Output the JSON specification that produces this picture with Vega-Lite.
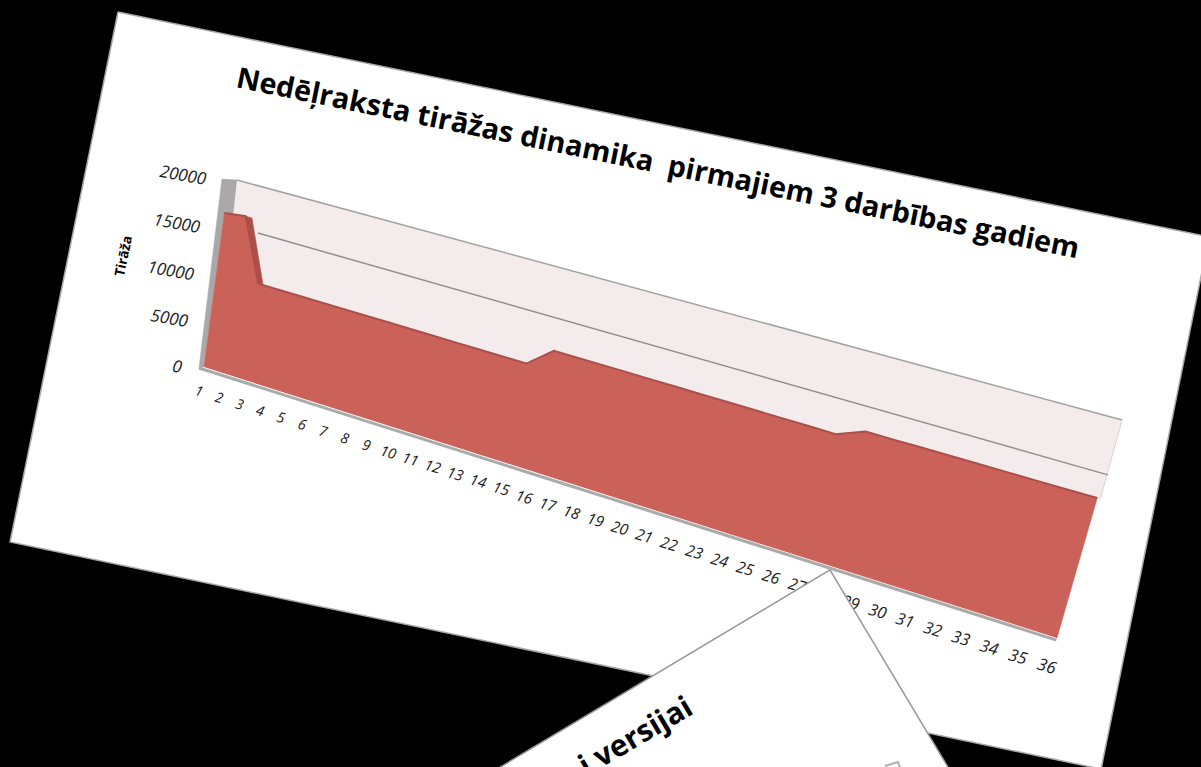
{"$schema":"https://vega.github.io/schema/vega-lite/v6.json","width":1201,"height":767,"autosize":{"type":"fit","contains":"padding"},"padding":0,"background":"#000000","view":{"stroke":null,"fill":null},
"data":{"values":[
{"part":"sheet","seq":0,"week":-5.18,"value":33598},{"part":"sheet","seq":1,"week":37.06,"value":36188},{"part":"sheet","seq":2,"week":38.56,"value":-10206},{"part":"sheet","seq":3,"week":-7.79,"value":-26870},{"part":"sheet","seq":4,"week":-5.18,"value":33598},
{"part":"side","seq":0,"week":0.77,"value":-272},{"part":"side","seq":1,"week":0.68,"value":19710},{"part":"side","seq":2,"week":1.38,"value":20016},{"part":"side","seq":3,"week":1.49,"value":16684},{"part":"side","seq":4,"week":1,"value":16400},{"part":"side","seq":5,"week":1,"value":0},
{"part":"wall","seq":0,"week":1.38,"value":20016},{"part":"wall","seq":1,"week":36.07,"value":19963},{"part":"wall","seq":2,"week":36.1,"value":12900},{"part":"wall","seq":3,"week":10,"value":8000},{"part":"wall","seq":4,"week":1.5,"value":8000},
{"part":"walltop","seq":0,"week":1.38,"value":20016},{"part":"walltop","seq":1,"week":36.07,"value":19963},{"part":"wallside","seq":0,"week":36.07,"value":19963},{"part":"wallside","seq":1,"week":36.1,"value":12900},
{"part":"grid","seq":0,"week":2.67,"value":15330},{"part":"grid","seq":1,"week":36.12,"value":15130},
{"part":"base","seq":0,"week":0.77,"value":-272},{"part":"base","seq":1,"week":36,"value":-200},
{"part":"band","seq":0,"week":2,"value":16660},{"part":"band","seq":1,"week":2.3,"value":16660},{"part":"band","seq":2,"week":3.23,"value":10270},{"part":"band","seq":3,"week":3,"value":10270},
{"part":"red","seq":0,"week":1,"value":0},
{"part":"red","seq":1,"week":1,"value":16400},{"part":"red","seq":2,"week":2,"value":16660},{"part":"red","seq":3,"week":3,"value":10270},{"part":"red","seq":4,"week":4,"value":10260},{"part":"red","seq":5,"week":5,"value":10250},{"part":"red","seq":6,"week":6,"value":10240},{"part":"red","seq":7,"week":7,"value":10240},{"part":"red","seq":8,"week":8,"value":10230},{"part":"red","seq":9,"week":9,"value":10220},{"part":"red","seq":10,"week":10,"value":10210},{"part":"red","seq":11,"week":11,"value":10200},{"part":"red","seq":12,"week":12,"value":10190},{"part":"red","seq":13,"week":13,"value":10180},{"part":"red","seq":14,"week":14,"value":10170},{"part":"red","seq":15,"week":15,"value":10160},{"part":"red","seq":16,"week":16,"value":12120},{"part":"red","seq":17,"week":17,"value":12110},{"part":"red","seq":18,"week":18,"value":12100},{"part":"red","seq":19,"week":19,"value":12090},{"part":"red","seq":20,"week":20,"value":12070},{"part":"red","seq":21,"week":21,"value":12060},{"part":"red","seq":22,"week":22,"value":12040},{"part":"red","seq":23,"week":23,"value":12030},{"part":"red","seq":24,"week":24,"value":12010},{"part":"red","seq":25,"week":25,"value":12000},{"part":"red","seq":26,"week":26,"value":11980},{"part":"red","seq":27,"week":27,"value":11960},{"part":"red","seq":28,"week":28,"value":12940},{"part":"red","seq":29,"week":29,"value":12940},{"part":"red","seq":30,"week":30,"value":12950},{"part":"red","seq":31,"week":31,"value":12950},{"part":"red","seq":32,"week":32,"value":12950},{"part":"red","seq":33,"week":33,"value":12950},{"part":"red","seq":34,"week":34,"value":12950},{"part":"red","seq":35,"week":35,"value":12950},{"part":"red","seq":36,"week":36,"value":12950},
{"part":"red","seq":37,"week":36,"value":0},
{"part":"xlab","week":1,"value":-2800,"label":"1"},{"part":"xlab","week":2,"value":-2800,"label":"2"},{"part":"xlab","week":3,"value":-2800,"label":"3"},{"part":"xlab","week":4,"value":-2800,"label":"4"},{"part":"xlab","week":5,"value":-2800,"label":"5"},{"part":"xlab","week":6,"value":-2800,"label":"6"},{"part":"xlab","week":7,"value":-2800,"label":"7"},{"part":"xlab","week":8,"value":-2800,"label":"8"},{"part":"xlab","week":9,"value":-2800,"label":"9"},{"part":"xlab","week":10,"value":-2800,"label":"10"},{"part":"xlab","week":11,"value":-2800,"label":"11"},{"part":"xlab","week":12,"value":-2800,"label":"12"},{"part":"xlab","week":13,"value":-2800,"label":"13"},{"part":"xlab","week":14,"value":-2800,"label":"14"},{"part":"xlab","week":15,"value":-2800,"label":"15"},{"part":"xlab","week":16,"value":-2800,"label":"16"},{"part":"xlab","week":17,"value":-2800,"label":"17"},{"part":"xlab","week":18,"value":-2800,"label":"18"},{"part":"xlab","week":19,"value":-2800,"label":"19"},{"part":"xlab","week":20,"value":-2800,"label":"20"},{"part":"xlab","week":21,"value":-2800,"label":"21"},{"part":"xlab","week":22,"value":-2800,"label":"22"},{"part":"xlab","week":23,"value":-2800,"label":"23"},{"part":"xlab","week":24,"value":-2800,"label":"24"},{"part":"xlab","week":25,"value":-2800,"label":"25"},{"part":"xlab","week":26,"value":-2800,"label":"26"},{"part":"xlab","week":27,"value":-2800,"label":"27"},{"part":"xlab","week":28,"value":-2800,"label":"28"},{"part":"xlab","week":29,"value":-2800,"label":"29"},{"part":"xlab","week":30,"value":-2800,"label":"30"},{"part":"xlab","week":31,"value":-2800,"label":"31"},{"part":"xlab","week":32,"value":-2800,"label":"32"},{"part":"xlab","week":33,"value":-2800,"label":"33"},{"part":"xlab","week":34,"value":-2800,"label":"34"},{"part":"xlab","week":35,"value":-2800,"label":"35"},{"part":"xlab","week":36,"value":-2800,"label":"36"},
{"part":"ylab","week":-0.04,"value":0,"label":"0"},{"part":"ylab","week":-0.04,"value":5000,"label":"5000"},{"part":"ylab","week":-0.04,"value":10000,"label":"10000"},{"part":"ylab","week":-0.04,"value":15000,"label":"15000"},{"part":"ylab","week":-0.04,"value":20000,"label":"20000"},
{"part":"ytitle","week":-3.53,"value":9040,"label":"Tirāža"},
{"part":"title","week":0.725,"value":29056,"label":"Nedēļraksta tirāžas dinamika \u00a0pirmajiem 3 darbības gadiem"},
{"part":"sheet2","seq":0,"week":27.94,"value":-375},{"part":"sheet2","seq":1,"week":34.24,"value":-16252},{"part":"sheet2","seq":2,"week":15.83,"value":-34560},{"part":"sheet2","seq":3,"week":27.94,"value":-375},
{"part":"title2","week":24.3,"value":-18197,"label":"i versijai"},
{"part":"corner","seq":0,"week":31.54,"value":-16775},{"part":"corner","seq":1,"week":31.95,"value":-15970},{"part":"corner","seq":2,"week":32.12,"value":-16618}
]},
"transform":[
{"calculate":"(datum.week-1)/35","as":"s"},
{"calculate":"datum.value/20000","as":"r"},
{"calculate":"1-0.17064*datum.s-0.03058*datum.r","as":"W"},
{"calculate":"(672.63*datum.s+18*datum.r+204)/datum.W","as":"px"},
{"calculate":"(162.13*datum.s-194.44*datum.r+367)/datum.W","as":"py"},
{"calculate":"14/datum.W","as":"fs"}
],
"encoding":{
"x":{"field":"px","type":"quantitative","axis":null,"scale":{"domain":[0,1201],"range":[0,1201],"nice":false,"zero":false}},
"y":{"field":"py","type":"quantitative","axis":null,"scale":{"domain":[0,767],"range":[0,767],"nice":false,"zero":false}}
},
"layer":[
{"transform":[{"filter":"datum.part=='sheet'"}],"mark":{"type":"line","fill":"#ffffff","stroke":"#a8a8a8","strokeWidth":1.5,"clip":true},"encoding":{"order":{"field":"seq"}}},
{"transform":[{"filter":"datum.part=='side'"}],"mark":{"type":"line","fill":"#aaa8a8","stroke":"#aaa8a8","strokeWidth":0.5,"clip":true},"encoding":{"order":{"field":"seq"}}},
{"transform":[{"filter":"datum.part=='wall'"}],"mark":{"type":"line","fill":"#f4ecec","stroke":"#f4ecec","strokeWidth":0.5,"clip":true},"encoding":{"order":{"field":"seq"}}},
{"transform":[{"filter":"datum.part=='walltop'"}],"mark":{"type":"line","stroke":"#a3a3a3","strokeWidth":1.5,"clip":true},"encoding":{"order":{"field":"seq"}}},
{"transform":[{"filter":"datum.part=='wallside'"}],"mark":{"type":"line","stroke":"#d8d4d4","strokeWidth":1,"clip":true},"encoding":{"order":{"field":"seq"}}},
{"transform":[{"filter":"datum.part=='grid'"}],"mark":{"type":"line","stroke":"#8f9090","strokeWidth":1.5,"clip":true},"encoding":{"order":{"field":"seq"}}},
{"transform":[{"filter":"datum.part=='base'"}],"mark":{"type":"line","stroke":"#aaaaaa","strokeWidth":3,"clip":true},"encoding":{"order":{"field":"seq"}}},
{"transform":[{"filter":"datum.part=='band'"}],"mark":{"type":"line","fill":"#ab4f49","stroke":"#ab4f49","strokeWidth":0.5,"clip":true},"encoding":{"order":{"field":"seq"}}},
{"transform":[{"filter":"datum.part=='red'"}],"mark":{"type":"line","fill":"#cb6259","stroke":"#cb6259","strokeWidth":0.5,"clip":true},"encoding":{"order":{"field":"seq"}}},
{"transform":[{"filter":"datum.part=='red'&&datum.value>0"}],"mark":{"type":"line","stroke":"#ab4f49","strokeWidth":2,"clip":true},"encoding":{"order":{"field":"seq"}}},
{"transform":[{"filter":"datum.part=='xlab'"}],"mark":{"type":"text","font":"Open Sans","fontStyle":"italic","angle":16,"align":"center","baseline":"middle","dx":-2,"color":"#1a1a1a"},"encoding":{"text":{"field":"label"},"size":{"field":"fs","type":"quantitative","scale":null,"legend":null}}},
{"transform":[{"filter":"datum.part=='ylab'"}],"mark":{"type":"text","font":"Open Sans","fontStyle":"italic","fontSize":17,"angle":10,"align":"right","baseline":"middle","dy":8,"color":"#1a1a1a"},"encoding":{"text":{"field":"label"}}},
{"transform":[{"filter":"datum.part=='ytitle'"}],"mark":{"type":"text","font":"Open Sans","fontWeight":"bold","fontSize":13.5,"angle":282,"align":"center","baseline":"middle","color":"#000000"},"encoding":{"text":{"field":"label"}}},
{"transform":[{"filter":"datum.part=='title'"}],"mark":{"type":"text","font":"Open Sans","fontWeight":"bold","fontSize":28.8,"angle":11.5,"align":"left","baseline":"alphabetic","color":"#000000"},"encoding":{"text":{"field":"label"}}},
{"transform":[{"filter":"datum.part=='sheet2'"}],"mark":{"type":"line","fill":"#ffffff","stroke":"#969696","strokeWidth":1.5,"clip":true},"encoding":{"order":{"field":"seq"}}},
{"transform":[{"filter":"datum.part=='title2'"}],"mark":{"type":"text","font":"Open Sans","fontWeight":"bold","fontSize":30,"angle":329.6,"align":"right","baseline":"alphabetic","color":"#000000","clip":true},"encoding":{"text":{"field":"label"}}},
{"transform":[{"filter":"datum.part=='corner'"}],"mark":{"type":"line","stroke":"#b0b0b0","strokeWidth":2,"clip":true},"encoding":{"order":{"field":"seq"}}}
]}
